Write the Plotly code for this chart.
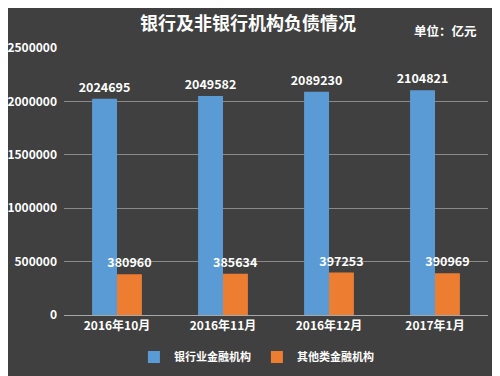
import plotly.graph_objects as go

categories = ["2016年10月", "2016年11月", "2016年12月", "2017年1月"]
bank = [2024695, 2049582, 2089230, 2104821]
nonbank = [380960, 385634, 397253, 390969]
series_names = ["银行业金融机构", "其他类金融机构"]
yticks = [0, 500000, 1000000, 1500000, 2000000, 2500000]

FONT = "Noto Sans CJK SC"
fig = go.Figure()
fig.add_trace(go.Bar(x=categories, y=bank, name=series_names[0], marker_color="#5b9bd5",
                     marker_line_width=0, text=bank, textposition="outside", constraintext="none",
                     textfont=dict(color="white", size=12.5, family=FONT, weight="bold"),
                     cliponaxis=False))
fig.add_trace(go.Bar(x=categories, y=nonbank, name=series_names[1], marker_color="#ed7d31",
                     marker_line_width=0, text=nonbank, textposition="outside", constraintext="none",
                     textfont=dict(color="white", size=12.5, family=FONT, weight="bold"),
                     cliponaxis=False))

fig.update_layout(
    width=500, height=376,
    paper_bgcolor="#404040", plot_bgcolor="#404040",
    margin=dict(l=56, r=20, t=40, b=69, autoexpand=False),
    barmode="group", bargap=0.53, bargroupgap=0,
    font=dict(family=FONT, color="white", size=11),
    title=dict(text="<b>银行及非银行机构负债情况</b>", x=0.48, xanchor="center", y=0.958, yanchor="middle",
               font=dict(size=18, color="white", family=FONT)),
    showlegend=True,
    legend=dict(orientation="h", x=0.455, xanchor="center", y=-0.157, yanchor="middle",
                font=dict(size=11, color="white", family=FONT, weight="bold"),
                itemwidth=30, tracegroupgap=0, entrywidth=78, entrywidthmode="pixels"),
)
fig.add_annotation(text="<b>单位：亿元</b>", xref="paper", yref="paper", x=0.899, y=1.064,
                   xanchor="center", yanchor="middle", showarrow=False,
                   font=dict(size=12.5, color="white", family=FONT))
fig.update_yaxes(range=[0, 2500000], tickvals=yticks, ticktext=[str(v) for v in yticks],
                 showgrid=True, gridcolor="#8a8a8a", gridwidth=1, zeroline=False,
                 tickfont=dict(size=12, color="white", family=FONT, weight="bold"),
                 ticks="", ticklabelstandoff=6)
fig.update_xaxes(showline=True, linecolor="#a8a8a8", linewidth=1,
                 tickfont=dict(size=12, color="white", family=FONT, weight="bold"), ticks="")
fig.write_html("out.html")
